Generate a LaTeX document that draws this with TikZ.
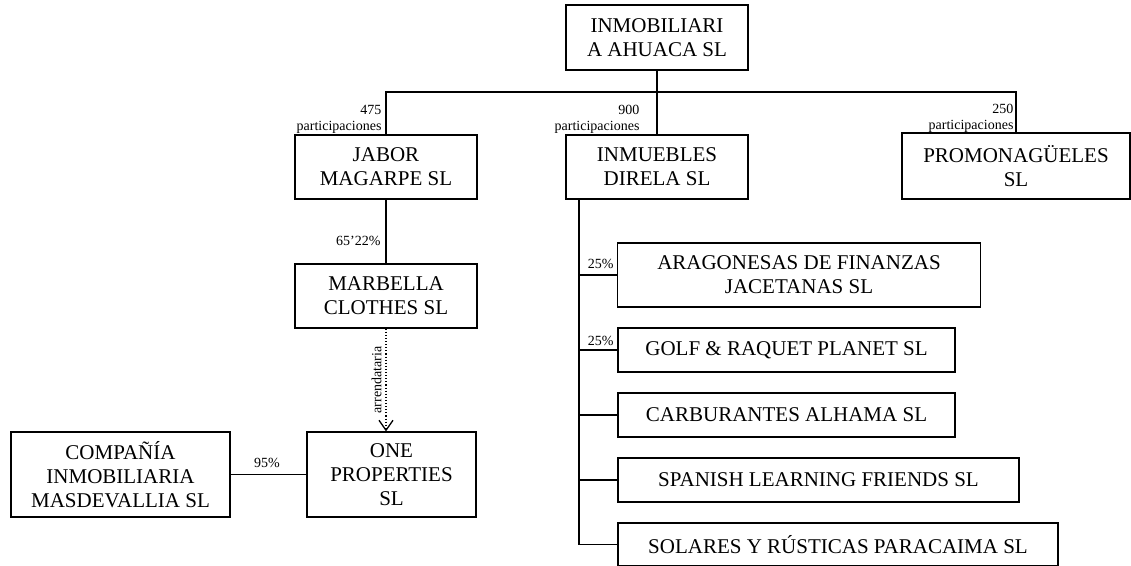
\documentclass[tikz,border=0pt]{standalone}
\usepackage{fontspec}
\setmainfont{Liberation Serif}
\usepackage{tikz}
\usetikzlibrary{arrows.meta}

\newcommand{\grande}{\fontsize{21}{24}\selectfont}
\newcommand{\chico}{\fontsize{14}{16}\selectfont}

\tikzset{
  empresa/.style={draw, line width=1.2pt, align=center, font=\grande, inner sep=2pt},
  cifra/.style={font=\chico, align=right, inner sep=1pt},
}

\begin{document}
\begin{tikzpicture}[x=1pt, y=-1pt, line width=1.1pt]
    \useasboundingbox (0,0) rectangle (1131,565);

    \node[empresa, minimum width=182pt, minimum height=65pt] (IA) at (657,37.5) {INMOBILIARI\\A AHUACA SL};
    \node[empresa, minimum width=182pt, minimum height=64pt] (JM) at (386,167)  {JABOR\\MAGARPE SL};
    \node[empresa, minimum width=182pt, minimum height=64pt] (ID) at (657,167)  {INMUEBLES\\DIRELA SL};
    \node[empresa, minimum width=228pt, minimum height=66pt] (PR) at (1016,166) {PROMONAGÜELES\\SL};
    \node[empresa, minimum width=182pt, minimum height=64pt] (MC) at (386,296)  {MARBELLA\\CLOTHES SL};
    \node[empresa, minimum width=169pt, minimum height=85pt] (OP) at (391.5,474.5) {ONE\\PROPERTIES\\SL};
    \node[empresa, minimum width=219pt, minimum height=85pt] (CI) at (120.5,474.5) {COMPAÑÍA\\INMOBILIARIA\\MASDEVALLIA SL};
    \node[empresa, minimum width=363pt, minimum height=64pt] (AF) at (799,275)  {ARAGONESAS DE FINANZAS\\JACETANAS SL};
    \node[empresa, minimum width=337pt, minimum height=44pt] (GR) at (786.5,350) {GOLF \& RAQUET PLANET SL};
    \node[empresa, minimum width=337pt, minimum height=44pt] (CA) at (786.5,415) {CARBURANTES ALHAMA SL};
    \node[empresa, minimum width=401pt, minimum height=44pt] (SL) at (818.5,480) {SPANISH LEARNING FRIENDS SL};
    \node[empresa, minimum width=440pt, minimum height=43pt] (SR) at (838,544.5)  {SOLARES Y RÚSTICAS PARACAIMA SL};

    \coordinate (bar) at (0,92);
    \coordinate (tronco) at (579,200);

    % participaciones
    \draw (IA.south) -- (ID.north);
    \draw (JM.north) -- (JM.north |- bar) -- (PR.north |- bar) -- (PR.north);
    \node[cifra, anchor=south east] (n475) at (383,135) {475\\participaciones};
    \node[cifra, anchor=south east] (n900) at (641,135) {900\\participaciones};
    \node[cifra, anchor=south east] (n250) at (1015,134) {250\\participaciones};

    \draw (JM.south) -- (MC.north);
    \node[cifra, anchor=east] (n6522) at (382,241) {65’22\%};
    \draw[dotted, -{Straight Barb[length=10pt,width=14pt,line width=1.3pt]}] (MC.south) -- (MC.south |- OP.north);
    \node[cifra, rotate=90, anchor=south] (narr) at (383,380) {arrendataria};
    \draw (CI.east) -- (OP.west);
    \node[cifra, anchor=south] (n95) at (267,469) {95\%};

    % sociedades de INMUEBLES DIRELA
    \draw (tronco) |- (SR.west);
    \draw (tronco |- AF.west) -- (AF.west);
    \draw (tronco |- GR.west) -- (GR.west);
    \draw (tronco |- CA.west) -- (CA.west);
    \draw (tronco |- SL.west) -- (SL.west);
    \node[cifra, anchor=south east] (n25a) at (615,270) {25\%};
    \node[cifra, anchor=south east] (n25b) at (615,347) {25\%};
  \end{tikzpicture}
\end{document}
